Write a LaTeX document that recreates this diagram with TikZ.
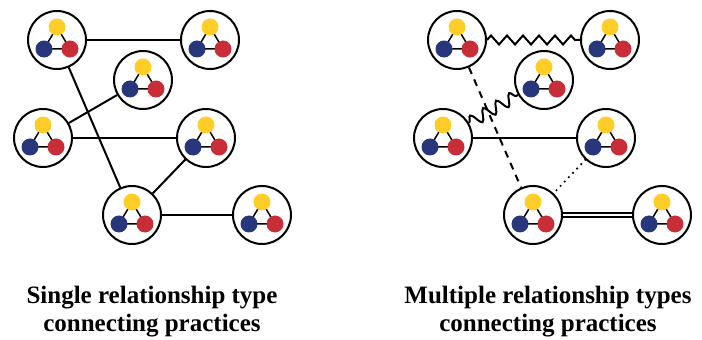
\documentclass[tikz,border=0pt]{standalone}
\usepackage{fontspec}
\setmainfont{Liberation Serif}
\usetikzlibrary{decorations.pathmorphing}
\definecolor{pyellow}{RGB}{254,205,40}
\definecolor{pblue}{RGB}{40,54,124}
\definecolor{pred}{RGB}{200,46,56}
\begin{document}
\begin{tikzpicture}[x=1pt,y=1pt,
		practice/.style = {shape=circle, draw, line width=2pt,
			minimum size=58pt, inner sep=0pt,
			path picture={
				\draw[line width=1.5pt] ([shift={(0,13)}]path picture bounding box.center)
					-- ([shift={(-13,-9)}]path picture bounding box.center)
					-- ([shift={(13,-9)}]path picture bounding box.center) -- cycle;
				\fill[pyellow] ([shift={(0,13)}]path picture bounding box.center) circle (8.5pt);
				\fill[pblue] ([shift={(-13,-9)}]path picture bounding box.center) circle (8.5pt);
				\fill[pred] ([shift={(13,-9)}]path picture bounding box.center) circle (8.5pt);
			}},
		link/.style = {line width=2pt},
		caption/.style = {align=center, font=\fontsize{25}{28}\selectfont\bfseries}]
	\useasboundingbox (0,0) rectangle (702,340);
	% single relationship type
	\node[practice] (a) at (57,300) {};
	\node[practice] (b) at (210,300) {};
	\node[practice] (c) at (143,260) {};
	\node[practice] (d) at (43,202) {};
	\node[practice] (e) at (206,202) {};
	\node[practice] (f) at (132,125) {};
	\node[practice] (g) at (262,125) {};
	\draw[link] (a) -- (b);
	\draw[link] (a) -- (f);
	\draw[link] (d) -- (c);
	\draw[link] (d) -- (e);
	\draw[link] (e) -- (f);
	\draw[link] (f) -- (g);
	\node[caption] (left) at (152,28) {Single relationship type\\connecting practices};
	% multiple relationship types
	\node[practice] (ma) at (457,300) {};
	\node[practice] (mb) at (610,300) {};
	\node[practice] (mc) at (544,260) {};
	\node[practice] (md) at (443,202) {};
	\node[practice] (me) at (606,202) {};
	\node[practice] (mf) at (533,125) {};
	\node[practice] (mg) at (662,125) {};
	\draw[link, decorate, decoration={zigzag, segment length=16pt, amplitude=4.5pt}] (ma) -- (mb);
	\draw[link, dash pattern=on 7pt off 6pt] (ma) -- (mf);
	\draw[link, decorate, decoration={snake, segment length=15pt, amplitude=6pt}] (md) -- (mc);
	\draw[link] (md) -- (me);
	\draw[link, line width=2.4pt, line cap=round, dash pattern=on 0pt off 6pt] (me) -- (mf);
	\draw[line width=1.4pt, double, double distance=2.6pt] (mf) -- (mg);
	\node[caption] (right) at (548,28) {Multiple relationship types\\connecting practices};
\end{tikzpicture}
\end{document}
